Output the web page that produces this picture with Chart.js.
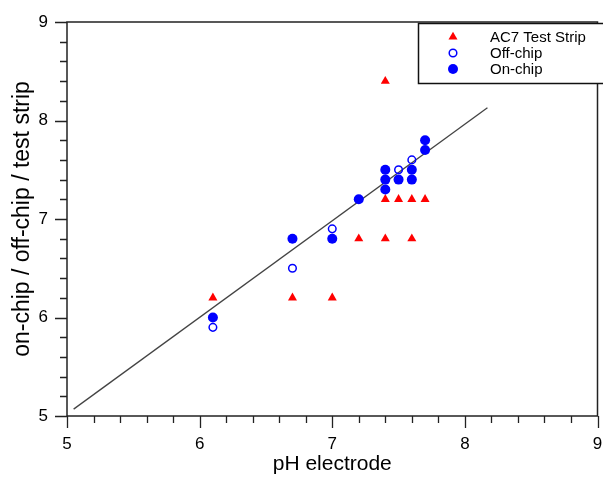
<!DOCTYPE html>
<html>
<head>
<meta charset="utf-8">
<script src="https://cdn.jsdelivr.net/npm/chart.js@4/dist/chart.umd.min.js"></script>
<style>
  html, body { margin: 0; padding: 0; background: #ffffff; }
  #wrap { width: 603px; height: 477px; position: relative; }
</style>
</head>
<body>
<div id="wrap"><canvas id="c" width="603" height="477"></canvas></div>
<script>
// ---- data ----
const stripX = [6.1, 6.7, 7.0, 7.2, 7.4, 7.6, 7.4, 7.5, 7.6, 7.7, 7.4];
const stripY = [6.2, 6.2, 6.2, 6.8, 6.8, 6.8, 7.2, 7.2, 7.2, 7.2, 8.4];
const offX = [6.1, 6.7, 7.0, 7.5, 7.6];
const offY = [5.9, 6.5, 6.9, 7.5, 7.6];
const onX = [6.1, 6.7, 7.0, 7.2, 7.4, 7.4, 7.4, 7.5, 7.6, 7.6, 7.7, 7.7];
const onY = [6.0, 6.8, 6.8, 7.2, 7.3, 7.4, 7.5, 7.4, 7.4, 7.5, 7.7, 7.8];
const fitX = [5.05, 8.17];
const fitY = [5.07, 8.13];
const seriesNames = ['AC7 Test Strip', 'Off-chip', 'On-chip'];
const xTitle = 'pH electrode';
const yTitle = 'on-chip / off-chip / test strip';
const axisMin = 5, axisMax = 9, majorStep = 1, minorStep = 0.2;

const pts = (xs, ys) => xs.map((x, i) => ({ x: x, y: ys[i] }));
const RED = '#ff0000', BLUE = '#0000ff', INK = '#222222';
const FONT = "'Liberation Sans', Arial, Helvetica, sans-serif";
const TRI_R = 5.2, ON_R = 5, OFF_R = 3.8;

const frameTicks = {
  id: 'frameTicks',
  beforeDatasetsDraw(chart) {
    const { ctx, chartArea: a, scales: { x, y } } = chart;
    ctx.save();
    ctx.strokeStyle = INK;
    ctx.lineWidth = 1.5;
    ctx.strokeRect(a.left, a.top, a.right - a.left, a.bottom - a.top);
    ctx.lineWidth = 1.3;
    ctx.beginPath();
    const n = Math.round((axisMax - axisMin) / minorStep);
    for (let i = 0; i <= n; i++) {
      const v = axisMin + i * minorStep;
      const major = Math.abs(v - Math.round(v)) < 1e-6;
      const len = major ? 12 : 7;
      const px = Math.round(x.getPixelForValue(v)) + 0.5;
      ctx.moveTo(px, a.bottom);
      ctx.lineTo(px, a.bottom + len);
      const py = Math.round(y.getPixelForValue(v)) + 0.5;
      ctx.moveTo(a.left, py);
      ctx.lineTo(a.left - len, py);
    }
    ctx.stroke();
    ctx.restore();
  }
};

const boxLegend = {
  id: 'boxLegend',
  afterDraw(chart) {
    const { ctx } = chart;
    ctx.save();
    ctx.fillStyle = '#ffffff';
    ctx.fillRect(418, 23, 190, 60);
    ctx.strokeStyle = '#111111';
    ctx.lineWidth = 1.5;
    ctx.strokeRect(418.5, 23.5, 190, 60);
    const rows = [37, 53, 69];
    const sx = 453;
    // triangle
    let r = TRI_R, cy = rows[0];
    ctx.fillStyle = RED;
    ctx.beginPath();
    ctx.moveTo(sx, cy - r);
    ctx.lineTo(sx + r * Math.sin(2 * Math.PI / 3), cy - r * Math.cos(2 * Math.PI / 3));
    ctx.lineTo(sx + r * Math.sin(4 * Math.PI / 3), cy - r * Math.cos(4 * Math.PI / 3));
    ctx.closePath();
    ctx.fill();
    // open circle
    ctx.strokeStyle = BLUE;
    ctx.lineWidth = 1.5;
    ctx.beginPath();
    ctx.arc(sx, rows[1], OFF_R, 0, Math.PI * 2);
    ctx.stroke();
    // filled circle
    ctx.fillStyle = BLUE;
    ctx.beginPath();
    ctx.arc(sx, rows[2], ON_R, 0, Math.PI * 2);
    ctx.fill();
    ctx.fillStyle = '#000000';
    ctx.font = '15px ' + FONT;
    ctx.textAlign = 'left';
    ctx.textBaseline = 'middle';
    seriesNames.forEach((t, i) => ctx.fillText(t, 490, rows[i] + 1));
    ctx.restore();
  }
};

new Chart(document.getElementById('c'), {
  type: 'scatter',
  data: {
    datasets: [
      { type: 'line', label: 'fit', data: pts(fitX, fitY), borderColor: '#444444', borderWidth: 1.3, pointRadius: 0, fill: false, order: 4 },
      { label: seriesNames[0], data: pts(stripX, stripY), pointStyle: 'triangle', pointRadius: TRI_R, backgroundColor: RED, borderColor: RED, borderWidth: 0, order: 3 },
      { label: seriesNames[2], data: pts(onX, onY), pointStyle: 'circle', pointRadius: ON_R, backgroundColor: BLUE, borderColor: BLUE, borderWidth: 0, order: 2 },
      { label: seriesNames[1], data: pts(offX, offY), pointStyle: 'circle', pointRadius: OFF_R, backgroundColor: 'rgba(0,0,0,0)', borderColor: BLUE, borderWidth: 1.5, order: 1 }
    ]
  },
  options: {
    responsive: false,
    animation: false,
    events: [],
    layout: { padding: { top: 22, right: 2, bottom: 0, left: 0 } },
    plugins: { legend: { display: false }, tooltip: { enabled: false } },
    scales: {
      x: {
        type: 'linear', min: axisMin, max: axisMax,
        grid: { display: false, drawTicks: false },
        border: { display: false },
        ticks: { stepSize: majorStep, padding: 18, color: '#000', font: { family: FONT, size: 17 } },
        title: { display: true, text: xTitle, color: '#000', padding: 0, font: { family: FONT, size: 21 } },
        afterFit(s) { s.height = 61; s.paddingLeft = 0; s.paddingRight = 0; }
      },
      y: {
        type: 'linear', min: axisMin, max: axisMax,
        grid: { display: false, drawTicks: false },
        border: { display: false },
        ticks: { stepSize: majorStep, padding: 19, color: '#000', font: { family: FONT, size: 17 } },
        title: { display: true, text: yTitle, color: '#000', padding: { top: 9, bottom: 0 }, font: { family: FONT, size: 23 } },
        afterFit(s) { s.width = 67; s.paddingTop = 0; s.paddingBottom = 0; }
      }
    }
  },
  plugins: [frameTicks, boxLegend]
});
</script>
</body>
</html>
